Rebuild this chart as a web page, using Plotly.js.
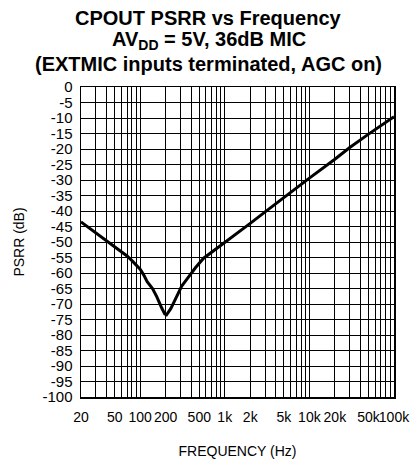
<!DOCTYPE html>
<html>
<head>
<meta charset="utf-8">
<script src="https://cdn.plot.ly/plotly-3.0.1.min.js"></script>
<style>html,body{margin:0;padding:0;background:#fff;}#chart{width:417px;height:468px;}</style>
</head>
<body>
<div id="chart"></div>
<script>
// Frequency (Hz) and PSRR (dB)
const freq = [20, 30, 40, 50, 60, 70, 80, 100, 110, 121, 140, 157, 180, 195, 205, 215, 230, 247, 280, 310, 350, 388, 450, 558, 700, 1000, 1500, 2000, 3000, 5000, 10000, 20000, 30000, 50000, 100000];
const psrr = [-43.5, -47, -49.5, -51.5, -53.1, -54.5, -56, -58.8, -60.6, -62.8, -65, -67.6, -71.3, -73.2, -73.5, -72.8, -71.5, -69.8, -66.5, -64.2, -62.3, -60.6, -58.3, -55.3, -53.3, -50.1, -46.8, -44, -40.3, -35.6, -29.4, -23.3, -19.5, -15.2, -9.6];

const titleLines = ['CPOUT PSRR vs Frequency', 'AV<sub>DD</sub> = 5V, 36dB MIC', '(EXTMIC inputs terminated, AGC on)'];
const xLabelVals = [20, 50, 100, 200, 500, 1000, 2000, 5000, 10000, 20000, 50000, 100000];
const xLabelText = ['20', '50', '100', '200', '500', '1k', '2k', '5k', '10k', '20k', '50k', '100k'];
const yTickVals = [0, -5, -10, -15, -20, -25, -30, -35, -40, -45, -50, -55, -60, -65, -70, -75, -80, -85, -90, -95, -100];

// grid positions: every 1..9 multiple in each decade within range
const xGridVals = [];
[10, 100, 1000, 10000].forEach(d => { for (let m = 1; m <= 9; m++) { const v = m * d; if (v >= 20 && v <= 100000) xGridVals.push(v); } });
xGridVals.push(100000);
const xGridText = xGridVals.map(v => { const i = xLabelVals.indexOf(v); return i >= 0 ? xLabelText[i] : ''; });

const font = 'Liberation Sans, Arial, sans-serif';
const H = 468, T = 87, B = 71, plotH = H - T - B;
const titleCenters = [18, 41, 64]; // px from top
const annotations = titleLines.map((t, i) => ({
  text: '<b>' + t + '</b>', xref: 'paper', yref: 'paper', x: 0.5 + (208.5 - (81 + 313 / 2)) / 313,
  y: (H - B - titleCenters[i]) / plotH, xanchor: 'center', yanchor: 'middle', showarrow: false,
  font: {family: font, size: 20, color: '#000'}
}));

Plotly.newPlot('chart', [{
  x: freq, y: psrr, type: 'scatter', mode: 'lines',
  line: {color: '#000', width: 3}, hoverinfo: 'skip'
}], {
  width: 417, height: 468,
  margin: {l: 81, r: 23, t: T, b: B},
  paper_bgcolor: '#fff', plot_bgcolor: '#fff',
  showlegend: false,
  annotations: annotations,
  xaxis: {
    type: 'log', range: [Math.log10(20), 5],
    tickmode: 'array', tickvals: xGridVals, ticktext: xGridText, tickangle: 0,
    showgrid: true, gridcolor: '#000', gridwidth: 1,
    showline: true, linecolor: '#000', linewidth: 1.5, mirror: true,
    ticks: '', ticklabelstandoff: 7, tickfont: {family: font, size: 14, color: '#000'},
    title: {text: 'FREQUENCY (Hz)', font: {family: font, size: 14, color: '#000'}, standoff: 22},
    zeroline: false, fixedrange: true
  },
  yaxis: {
    range: [-100, 0],
    tickmode: 'array', tickvals: yTickVals, ticktext: yTickVals.map(v => String(v)),
    showgrid: true, gridcolor: '#000', gridwidth: 1,
    showline: true, linecolor: '#000', linewidth: 1.5, mirror: true,
    ticks: '', ticklabelstandoff: 4, tickfont: {family: font, size: 15, color: '#000'},
    title: {text: 'PSRR (dB)', font: {family: font, size: 14, color: '#000'}, standoff: 14},
    zeroline: false, fixedrange: true
  }
}, {staticPlot: true, displayModeBar: false});
</script>
</body>
</html>
